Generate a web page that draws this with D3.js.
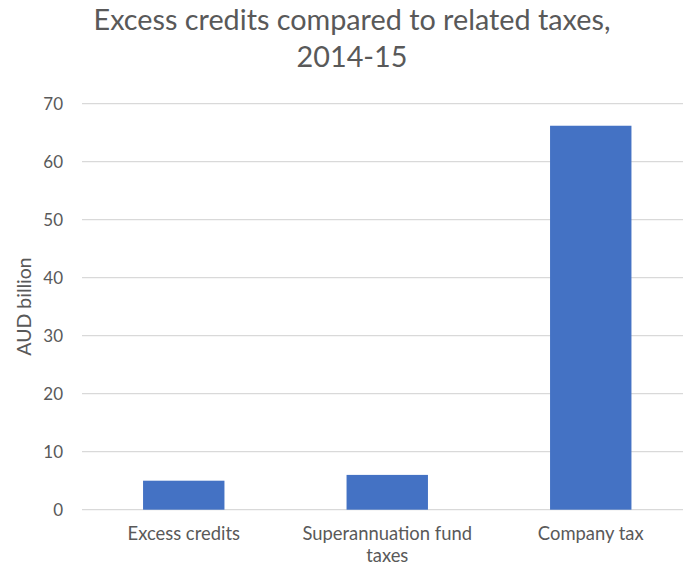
<!DOCTYPE html>
<html>
<head>
<meta charset="utf-8">
<script src="https://cdn.jsdelivr.net/npm/d3@7"></script>
<style>
  html, body { margin: 0; padding: 0; background: #fff; }
  svg { display: block; font-family: Lato, "Open Sans", sans-serif; }
</style>
</head>
<body>
<svg id="chart" width="683" height="570"></svg>
<script>
// Chart data
const categories = ["Excess credits", "Superannuation fund taxes", "Company tax"];
const values = [5.0, 6.0, 66.2];
const yTicks = [0, 10, 20, 30, 40, 50, 60, 70];
const titleLines = ["Excess credits compared to related taxes,", "2014-15"];
const yTitle = "AUD billion";

const svg = d3.select("#chart");
const textColor = "#595959";

const x = d3.scaleBand()
  .domain(categories)
  .range([82, 692.5])
  .paddingInner(0.6)
  .paddingOuter(0.3);

const y = d3.scaleLinear().domain([0, 70]).range([509.7, 103.7]);

// Set font size so that a text element spans the wanted width
function fitWidth(sel, width) {
  const node = sel.node();
  const fs = parseFloat(sel.attr("font-size"));
  const w = node.getComputedTextLength();
  sel.attr("font-size", (fs * width / w).toFixed(2));
}

// Gridlines
svg.append("g")
  .selectAll("line")
  .data(yTicks)
  .join("line")
  .attr("x1", 82)
  .attr("x2", 692.5)
  .attr("y1", d => y(d))
  .attr("y2", d => y(d))
  .attr("stroke", "#d9d9d9")
  .attr("stroke-width", 1.3);

// Bars
svg.append("g")
  .selectAll("rect")
  .data(values)
  .join("rect")
  .attr("x", (d, i) => x(categories[i]))
  .attr("width", x.bandwidth())
  .attr("y", d => y(d))
  .attr("height", d => y(0) - y(d))
  .attr("fill", "#4472c4");

// Y axis tick labels
const yAxis = svg.append("g")
  .attr("transform", "translate(63,0)")
  .call(d3.axisLeft(y).tickValues(yTicks).tickSize(0).tickPadding(0));
yAxis.select(".domain").remove();
yAxis.selectAll("text")
  .attr("font-family", "Lato, sans-serif")
  .attr("font-size", 17)
  .attr("fill", textColor)
  .attr("dy", "0.36em");

// X axis category labels (wrapped)
const xAxis = svg.append("g")
  .attr("transform", `translate(0,${y(0)})`)
  .call(d3.axisBottom(x).tickSize(0).tickPadding(0));
xAxis.select(".domain").remove();
xAxis.selectAll("text").remove();

const catFont = 18.4;
svg.append("g").selectAll("text")
  .data(categories)
  .join("text")
  .attr("text-anchor", "middle")
  .attr("font-size", catFont)
  .attr("fill", textColor)
  .each(function(d) {
    const t = d3.select(this);
    const cx = x(d) + x.bandwidth() / 2;
    const words = d.split(" ");
    let lines = [], cur = [];
    words.forEach(w => {
      const test = cur.concat(w).join(" ");
      t.text(test);
      if (this.getComputedTextLength() > 185 && cur.length) {
        lines.push(cur.join(" "));
        cur = [w];
      } else {
        cur.push(w);
      }
    });
    lines.push(cur.join(" "));
    t.text(null);
    lines.forEach((ln, i) => {
      t.append("tspan")
        .attr("x", cx)
        .attr("y", 540 + i * 22)
        .text(ln);
    });
  });

// Y axis title
svg.append("text")
  .attr("transform", "translate(31,306.5) rotate(-90)")
  .attr("text-anchor", "middle")
  .attr("font-size", 19.5)
  .attr("fill", textColor)
  .text(yTitle);

// Chart title
const title = svg.append("g");
title.selectAll("text")
  .data(titleLines)
  .join("text")
  .attr("x", 352)
  .attr("y", (d, i) => 30 + i * 37)
  .attr("text-anchor", "middle")
  .attr("font-size", 27)
  .attr("fill", textColor)
  .text(d => d);
fitWidth(title.select("text"), 517);
title.selectAll("text").attr("font-size", title.select("text").attr("font-size"));
</script>
</body>
</html>
